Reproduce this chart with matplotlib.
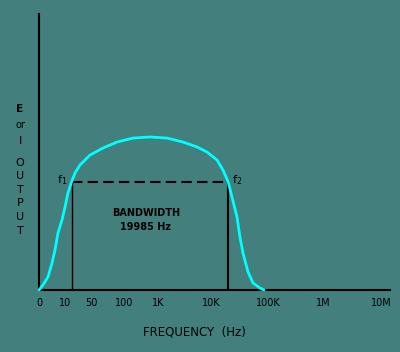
import numpy as np
import matplotlib
matplotlib.use("Agg")
import matplotlib.pyplot as plt

# ---------------- data ----------------
tick_freqs = [0, 10, 50, 100, 1e3, 1e4, 1e5, 1e6, 1e7]
tick_labels = ['0', '10', '50', '100', '1K', '10K', '100K', '1M', '10M']

# response curve (frequency in Hz, relative output)
curve_freq = [0, 1.54, 3.46, 5.0, 6.15, 7.31, 8.85, 10, 12.0, 15, 18.6,
              25.3, 47.0, 64.3, 86.4, 184, 582, 1479, 2960, 5440, 8380,
              12740, 16240, 20000, 23340, 28600, 32200, 36400, 44600,
              54600, 72300, 85000]
curve_level = [0, 0.033, 0.085, 0.176, 0.261, 0.373, 0.458, 0.542, 0.634,
               0.707, 0.765, 0.817, 0.882, 0.928, 0.967, 0.993, 1.0, 0.993,
               0.967, 0.935, 0.902, 0.850, 0.784, 0.707, 0.608, 0.477,
               0.346, 0.242, 0.118, 0.046, 0.013, 0.0]

f1 = 15          # lower cutoff, Hz
f2 = 20000       # upper cutoff, Hz
half_power = 0.707
bandwidth_text = 'BANDWIDTH\n19985 Hz'

# ---------------- layout (hand drawn, non-uniform axis) ----------------
G_KNOTS = [0, 1, np.log10(50), 2, 3, 4, 5, 6, 7, 7 + 9 / 58]
POS = [39, 65, 91, 124, 158, 211, 268, 323, 381, 390]


def _g(f):
    f = np.asarray(f, float)
    return np.where(f < 10, f / 10.0, np.log10(np.maximum(f, 10)))


def fwd(f):
    return np.interp(_g(f), G_KNOTS, POS)


def inv(p):
    u = np.interp(np.asarray(p, float), POS, G_KNOTS)
    return np.where(u < 1, 10 * u, 10 ** np.maximum(u, 1))


BG = '#427f7d'
CYAN = '#00ffff'
W, H = 400, 352

fig = plt.figure(figsize=(W / 100, H / 100), dpi=100, facecolor=BG)
ax = fig.add_axes([39 / W, 62 / H, 351 / W, 276 / H])
ax.set_facecolor(BG)
ax.set_xscale('function', functions=(fwd, inv))
ax.set_xlim(0, float(inv(390)))
ax.set_ylim(0, 276 / 153)

for s in ['top', 'right']:
    ax.spines[s].set_visible(False)
for s in ['left', 'bottom']:
    ax.spines[s].set_linewidth(1.5)
    ax.spines[s].set_color('black')

ax.set_xticks(tick_freqs)
ax.set_xticklabels(tick_labels)
ax.set_yticks([])
ax.tick_params(axis='x', length=0, pad=6, labelsize=7, colors='black')
ax.xaxis.set_minor_locator(matplotlib.ticker.NullLocator())

# bandwidth box
ax.plot([f1, f1], [0, half_power], color='black', lw=1.0, zorder=2)
ax.plot([f2, f2], [0, half_power], color='black', lw=1.5, zorder=2)
ax.plot([f1, f2], [half_power, half_power], color='black', lw=1.5,
        linestyle=(0, (5, 2.5)), zorder=2)

# response curve
ax.plot(curve_freq, curve_level, color=CYAN, lw=2.0, zorder=3,
        solid_capstyle='round', solid_joinstyle='round', clip_on=False)

ax.annotate(r'$\mathregular{f_1}$', (f1, half_power), xytext=(-3, 1),
            textcoords='offset points', ha='right', va='center', fontsize=8)
ax.annotate(r'$\mathregular{f_2}$', (f2, half_power), xytext=(3, 1),
            textcoords='offset points', ha='left', va='center', fontsize=8)


def ftext(x, y, s, **kw):
    fig.text(x / W, 1 - y / H, s, **kw)


ftext(146, 220, bandwidth_text, ha='center', va='center', fontsize=7,
      fontweight='bold', linespacing=1.5)

# y label stacked letters
ftext(20, 109, 'E', ha='center', va='center', fontsize=7.5, fontweight='bold')
ftext(20, 125, 'or', ha='center', va='center', fontsize=7)
for ch, yy in zip('IOUTPUT', [141, 163, 176, 190, 203, 217, 231]):
    ftext(20, yy, ch, ha='center', va='center', fontsize=8)

ftext(194, 332, 'FREQUENCY  (Hz)', ha='center', va='center', fontsize=8.5)

fig.savefig('out.png', dpi=100, facecolor=BG)
